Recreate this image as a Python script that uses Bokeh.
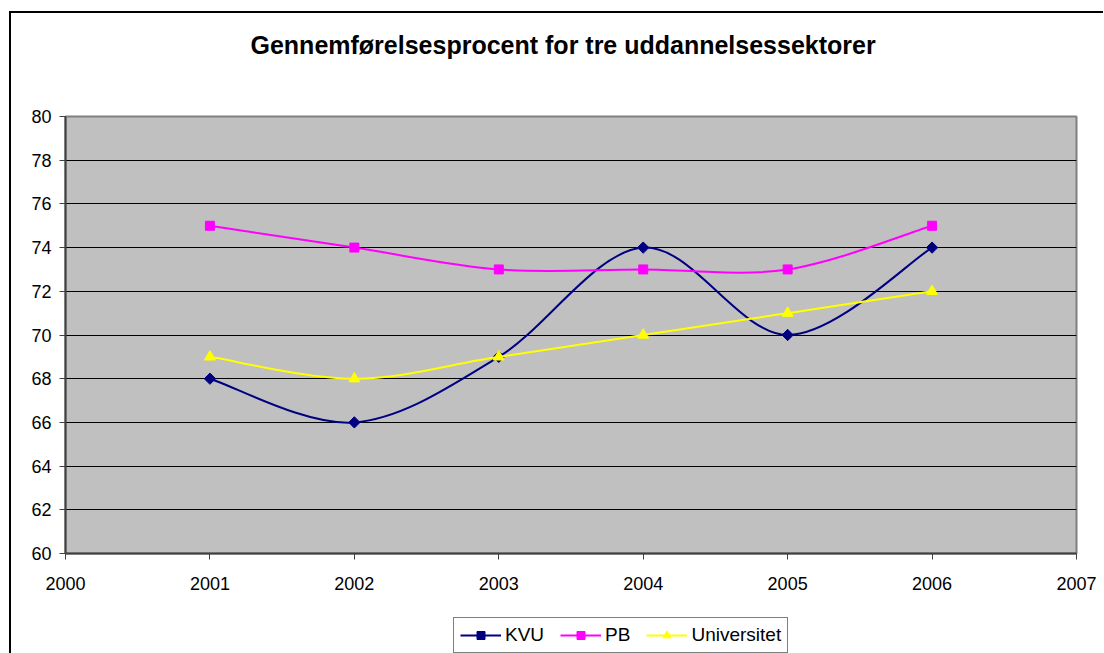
import math
from bokeh.plotting import figure
from bokeh.layouts import column
from bokeh.models import Legend, LegendItem, FixedTicker, ColumnDataSource, Title
from bokeh.embed import file_html
from bokeh.resources import INLINE

# ---- data ----
years = [2001, 2002, 2003, 2004, 2005, 2006]
kvu = [68, 66, 69, 74, 70, 74]
pb = [75, 74, 73, 73, 73, 75]
universitet = [69, 68, 69, 70, 71, 72]
x_ticks = [2000, 2001, 2002, 2003, 2004, 2005, 2006, 2007]
y_ticks = [60, 62, 64, 66, 68, 70, 72, 74, 76, 78, 80]
title_text = "Gennemførelsesprocent for tre uddannelsessektorer"

FONT = "Liberation Sans"


def smooth_segments(xs, ys):
    """Excel-like smoothed line: cubic Bezier segments whose control points
    come from the neighbouring data points (Catmull-Rom, tension 1/6)."""
    n = len(xs)
    d = dict(x0=[], y0=[], x1=[], y1=[], cx0=[], cy0=[], cx1=[], cy1=[])
    for i in range(n - 1):
        p0 = (xs[max(i - 1, 0)], ys[max(i - 1, 0)])
        p1 = (xs[i], ys[i])
        p2 = (xs[i + 1], ys[i + 1])
        p3 = (xs[min(i + 2, n - 1)], ys[min(i + 2, n - 1)])
        d["x0"].append(p1[0]); d["y0"].append(p1[1])
        d["x1"].append(p2[0]); d["y1"].append(p2[1])
        d["cx0"].append(p1[0] + (p2[0] - p0[0]) / 6.0)
        d["cy0"].append(p1[1] + (p2[1] - p0[1]) / 6.0)
        d["cx1"].append(p2[0] - (p3[0] - p1[0]) / 6.0)
        d["cy1"].append(p2[1] - (p3[1] - p1[1]) / 6.0)
    return ColumnDataSource(d)


p = figure(frame_width=1009, frame_height=435, title=None,
           output_backend="svg", toolbar_location=None,
           x_range=(2000, 2007), y_range=(60, 80),
           min_border_left=54, min_border_right=29,
           min_border_top=103, min_border_bottom=46)
p.styles = {"border-left": "2px solid black", "border-top": "2px solid black",
            "margin-left": "9px", "margin-top": "11px"}

p.background_fill_color = "#C0C0C0"
p.border_fill_color = "white"
p.outline_line_color = "#808080"
p.outline_line_width = 2

# title: a blank spacer next to the frame, then the real title above it
p.add_layout(Title(text=" ", text_font_size="36px"), "above")
p.add_layout(Title(text=title_text, align="left", offset=185,
                   text_font=FONT, text_font_size="25px",
                   text_font_style="bold", text_color="black"), "above")

# axes
p.xaxis.ticker = FixedTicker(ticks=x_ticks)
p.yaxis.ticker = FixedTicker(ticks=y_ticks)
for ax in (p.xaxis[0], p.yaxis[0]):
    ax.axis_line_color = "#404040"
    ax.axis_line_width = 2
    ax.major_tick_line_color = "#404040"
    ax.major_tick_in = 0
    ax.major_tick_out = 6
    ax.minor_tick_line_color = None
    ax.major_label_text_font = FONT
    ax.major_label_text_font_size = "18px"
    ax.major_label_text_color = "black"
p.yaxis.major_label_standoff = 8
p.xaxis.major_label_standoff = 17

p.xgrid.grid_line_color = None
p.ygrid.grid_line_color = "black"
p.ygrid.grid_line_width = 1

# legend strip below the chart (its own small figure, legend inside its frame)
p2 = figure(width=1092, height=56, x_range=(0, 1), y_range=(0, 1),
            x_axis_type=None, y_axis_type=None, min_border=0,
            output_backend="svg", toolbar_location=None)
p2.styles = {"border-left": "2px solid black", "margin-left": "9px"}
p2.outline_line_color = None
p2.background_fill_color = "white"
p2.border_fill_color = "white"
p2.grid.visible = False

# series
series = [
    ("KVU", kvu, "#000080", "square", 8, math.pi / 4),
    ("PB", pb, "#FF00FF", "square", 9, 0),
    ("Universitet", universitet, "#FFFF00", "triangle", 11, 0),
]
items = []
for name, vals, color, marker, size, ang in series:
    src = smooth_segments(years, vals)
    p.bezier(x0="x0", y0="y0", x1="x1", y1="y1", cx0="cx0", cy0="cy0",
             cx1="cx1", cy1="cy1", source=src, line_color=color, line_width=2)
    p.scatter(years, vals, marker=marker, size=size, angle=ang,
              fill_color=color, line_color=color)
    # legend key renderers (their data lie outside the strip's ranges)
    lr = p2.line(years, vals, line_color=color, line_width=2)
    mr = p2.scatter(years, vals, marker=marker, size=size, angle=ang,
                    fill_color=color, line_color=color)
    items.append(LegendItem(label=name, renderers=[lr, mr]))

legend = Legend(items=items, orientation="horizontal", location=(388, 0),
                label_text_font=FONT, label_text_font_size="19px",
                label_text_color="black", glyph_width=41, glyph_height=20,
                spacing=16, padding=6, margin=0, label_standoff=4,
                border_line_color="black", border_line_width=1,
                background_fill_color="white", background_fill_alpha=1)
p2.add_layout(legend, "center")

layout = column(p, p2, spacing=0)
open("out.html", "w").write(file_html(layout, INLINE))
